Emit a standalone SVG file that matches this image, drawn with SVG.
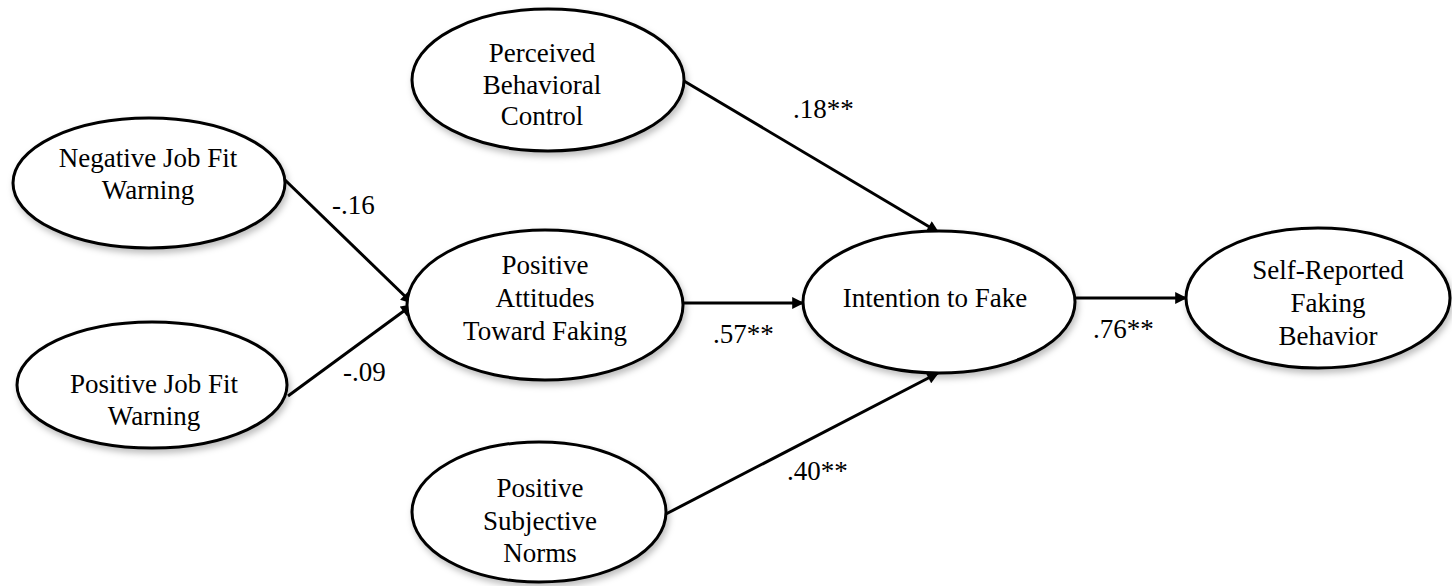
<svg xmlns="http://www.w3.org/2000/svg" width="1452" height="586" viewBox="0 0 1452 586" font-family="Liberation Serif, Times New Roman, serif" font-size="27">
  <style>
    .node ellipse { fill: #ffffff; stroke: #000000; stroke-width: 3; filter: url(#soft); }
    .node text { fill: #000000; text-anchor: middle; }
    .edge line { stroke: #000000; stroke-width: 3; marker-end: url(#head); }
    .coef { fill: #000000; }
  </style>
  <defs>
    <filter id="soft" x="-10%" y="-10%" width="125%" height="130%">
      <feDropShadow dx="2" dy="4" stdDeviation="3" flood-color="#000000" flood-opacity="0.25"/>
    </filter>
    <marker id="head" viewBox="0 0 10 10" refX="9" refY="5" markerWidth="4.5" markerHeight="4" orient="auto" markerUnits="strokeWidth">
      <path d="M0,0 L10,5 L0,10 z" fill="#000000"/>
    </marker>
  </defs>
  <rect width="1452" height="586" fill="#ffffff"/>

  <!-- paths -->
  <g id="connectors" class="edge">
    <line x1="285" y1="180" x2="412" y2="303"/>
    <line x1="288" y1="396" x2="412" y2="305"/>
    <line x1="684" y1="81" x2="938" y2="232"/>
    <line x1="683" y1="303" x2="803" y2="303"/>
    <line x1="1075" y1="298" x2="1186" y2="298"/>
    <line x1="664" y1="515" x2="938" y2="373"/>
  </g>

  <!-- path coefficients -->
  <g id="coefficients">
    <text class="coef" x="332" y="214">-.16</text>
    <text class="coef" x="343" y="381">-.09</text>
    <text class="coef" x="793" y="118">.18**</text>
    <text class="coef" x="713" y="343">.57**</text>
    <text class="coef" x="1093" y="338">.76**</text>
    <text class="coef" x="787" y="480">.40**</text>
  </g>

  <g id="neg-job-fit" class="node">
    <ellipse cx="149" cy="183" rx="136" ry="65"/>
    <text x="148" y="167">Negative Job Fit</text>
    <text x="148" y="199">Warning</text>
  </g>

  <g id="pos-job-fit" class="node">
    <ellipse cx="152" cy="385" rx="135" ry="63"/>
    <text x="154" y="393">Positive Job Fit</text>
    <text x="154" y="425">Warning</text>
  </g>

  <g id="perceived-control" class="node">
    <ellipse cx="548" cy="80" rx="136" ry="71"/>
    <text x="542" y="62">Perceived</text>
    <text x="542" y="94">Behavioral</text>
    <text x="542" y="125">Control</text>
  </g>

  <g id="positive-attitudes" class="node">
    <ellipse cx="545" cy="305" rx="138" ry="75"/>
    <text x="545" y="274">Positive</text>
    <text x="545" y="307">Attitudes</text>
    <text x="545" y="340">Toward Faking</text>
  </g>

  <g id="intention" class="node">
    <ellipse cx="939" cy="302" rx="136" ry="71"/>
    <text x="935" y="307">Intention to Fake</text>
  </g>

  <g id="self-reported" class="node">
    <ellipse cx="1318" cy="298" rx="132" ry="70"/>
    <text x="1328" y="279">Self-Reported</text>
    <text x="1328" y="312">Faking</text>
    <text x="1328" y="345">Behavior</text>
  </g>

  <g id="subjective-norms" class="node">
    <ellipse cx="539" cy="512" rx="127" ry="70"/>
    <text x="540" y="497">Positive</text>
    <text x="540" y="530">Subjective</text>
    <text x="540" y="562">Norms</text>
  </g>
</svg>
